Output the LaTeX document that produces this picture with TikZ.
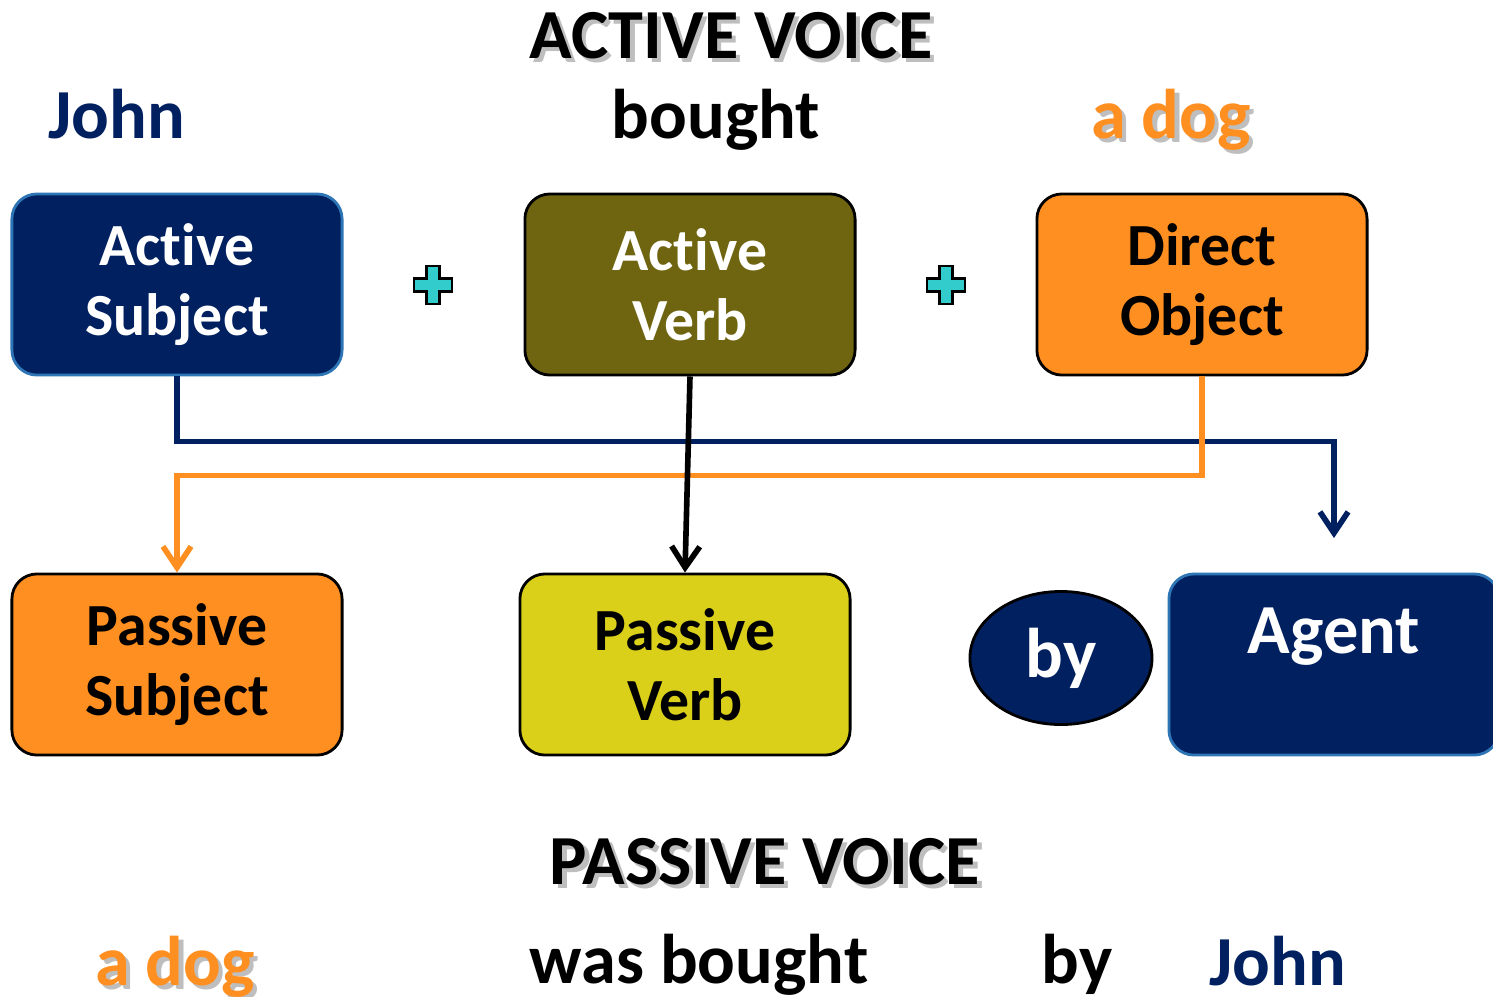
\documentclass[tikz,border=0pt]{standalone}
\usepackage{fontspec}
\setmainfont{Carlito}[Ligatures=NoCommon]
\usetikzlibrary{shapes.geometric,arrows.meta}
\definecolor{navy}{HTML}{002060}
\definecolor{boxblue}{HTML}{2E75B6}
\definecolor{olive}{RGB}{111,101,17}
\definecolor{orange}{HTML}{FF8F21}
\definecolor{yellowbox}{RGB}{218,208,26}
\definecolor{teal}{HTML}{33CCCC}
\definecolor{shadowgray}{RGB}{190,190,190}
\newcommand{\shadowed}[2]{\makebox[0pt][l]{\hspace{1.2pt}\raisebox{-1.2pt}{\color{shadowgray}#2}}{\color{#1}#2}}
\begin{document}
\begin{tikzpicture}[x=0.01cm,y=-0.01cm,
  box/.style={rectangle,rounded corners=0.25cm,minimum width=3.3cm,minimum height=1.81cm,align=center,line width=0.8pt,font=\fontsize{17}{20}\selectfont\bfseries},
  word/.style={anchor=base,inner sep=0pt,font=\fontsize{20}{24}\selectfont\bfseries},
  link/.style={line width=1.6pt,-{Straight Barb[length=6pt,width=8pt]}}]
\path[use as bounding box] (0,0) rectangle (1493,996);
\clip (0,0) rectangle (1493,996);
\node[word] (actitle) at (731,58) {\shadowed{black}{ACTIVE VOICE}};
\node[word,navy] (john) at (117,138) {John};
\node[word] (bought) at (716,138) {bought};
\node[word] (adog) at (1171,138) {\shadowed{orange}{a dog}};
\node[box,draw=boxblue,fill=navy,text=white] (asub) at (177,284.5) {Active\\Subject};
\node[box,draw=black,fill=olive,text=white] (averb) at (690,284.5) {Active\\Verb};
\node[box,draw=black,fill=orange] (dobj) at (1202,284.5) {Direct\\Object};
\foreach \x in {433,946}
  \draw[fill=teal,line width=0.8pt] (\x-6.5,266) -- (\x+6.5,266) -- (\x+6.5,278.5) -- (\x+19,278.5) -- (\x+19,291.5) -- (\x+6.5,291.5) -- (\x+6.5,304) -- (\x-6.5,304) -- (\x-6.5,291.5) -- (\x-19,291.5) -- (\x-19,278.5) -- (\x-6.5,278.5) -- cycle;
\node[box,draw=black,fill=orange] (psub) at (177,664.5) {Passive\\Subject};
\node[box,draw=black,fill=yellowbox] (pverb) at (685,664.5) {Passive\\Verb};
\node[ellipse,draw=black,fill=navy,text=white,line width=0.8pt,minimum width=1.82cm,minimum height=1.33cm,font=\fontsize{20}{24}\selectfont\bfseries] (by) at (1061,658) {by};
\node[box,draw=boxblue,fill=navy,text=white,font=\fontsize{20}{24}\selectfont\bfseries] (agent) at (1334,664.5) {Agent\\[-5pt]\mbox{}};
\coordinate (agentin) at (1334,538);
\draw[link,navy] (asub.south) -- ++(0,65) -| (agentin);
\draw[link,orange] (dobj.south) -- ++(0,99) -| (psub.north);
\draw[link,black] (averb.south) -- (pverb.north);
\node[word] (pvtitle) at (765,884) {\shadowed{black}{PASSIVE VOICE}};
\node[word] (adog2) at (175,985) {\shadowed{orange}{a dog}};
\node[word] (wasbought) at (699,983) {was bought};
\node[word] (by2) at (1077,983) {by};
\node[word,navy] (john2) at (1278,985) {John};
\end{tikzpicture}
\end{document}
